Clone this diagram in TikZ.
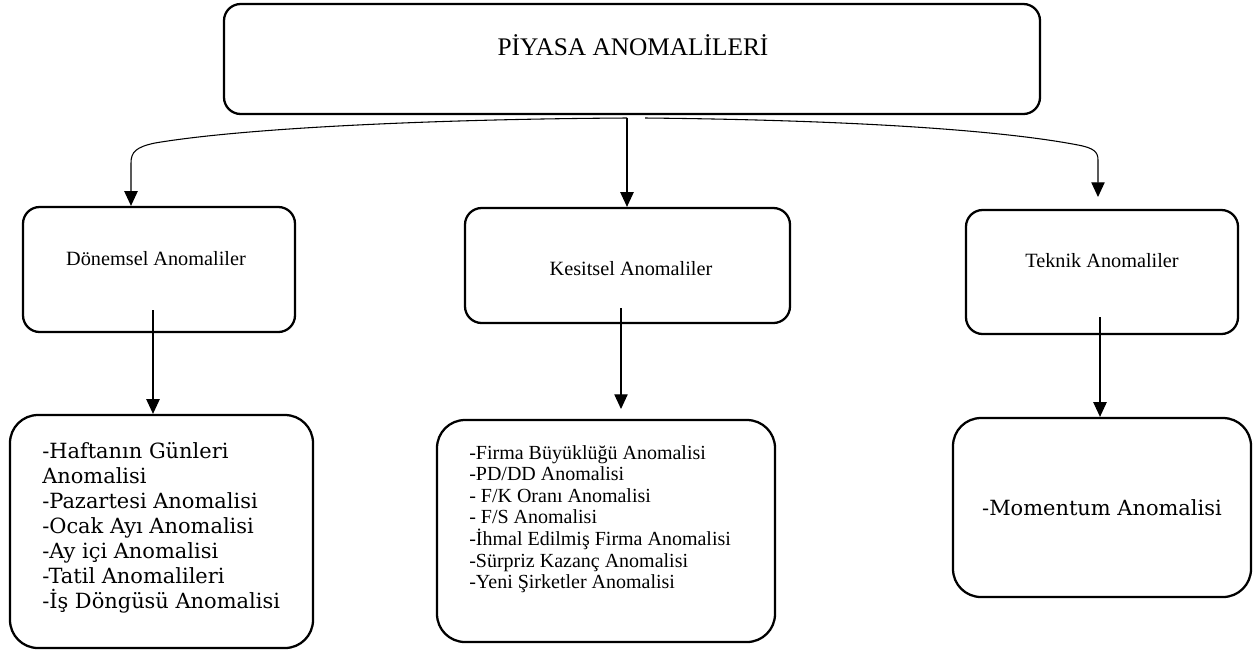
\documentclass[tikz,border=0pt]{standalone}
\usepackage{fontspec}
\setmainfont{Liberation Serif}
\newfontfamily\bkfont{DejaVu Serif}
\usetikzlibrary{arrows.meta,fit}
\begin{document}
\begin{tikzpicture}[x=0.75pt,y=-0.75pt,
  box/.style={draw, line width=1.7pt, rounded corners=12.5pt, inner sep=0pt},
  bigbox/.style={box, rounded corners=21pt},
  conn/.style={line width=0.8pt, -{Triangle[length=11pt,width=10pt]}},
  lbl/.style={inner sep=0pt, anchor=base, font=\fontsize{15.2}{18}\selectfont},
  listbk/.style={inner sep=0pt, anchor=north west, align=left, font=\bkfont\fontsize{15.7}{18.75}\selectfont},
  listgm/.style={inner sep=0pt, anchor=north west, align=left, font=\fontsize{15}{16.2}\selectfont}]

\useasboundingbox (0,0) rectangle (1253,651);

% boxes
\node[box, fit={(224,4) (1040,114)}] (top) {};
\node[box, fit={(23,207) (295,332)}] (b1) {};
\node[box, fit={(465,208) (790,323)}] (b2) {};
\node[box, fit={(966,210) (1238,334)}] (b3) {};
\node[bigbox, fit={(10,415) (313,648)}] (c1) {};
\node[bigbox, fit={(437,420) (775,642)}] (c2) {};
\node[bigbox, fit={(953,418) (1251,597)}] (c3) {};

% texts
\node[lbl, font=\fontsize{19}{22}\selectfont] (t0) at (633,55) {PİYASA ANOMALİLERİ};
\node[lbl] (t1) at (156,265) {Dönemsel Anomaliler};
\node[lbl] (t2) at (631,275) {Kesitsel Anomaliler};
\node[lbl] (t3) at (1102,267) {Teknik Anomaliler};

\node[listbk] (l1) at (42,442) {-Haftanın Günleri\\Anomalisi\\-Pazartesi Anomalisi\\-Ocak Ayı Anomalisi\\-Ay içi Anomalisi\\-Tatil Anomalileri\\-İş Döngüsü Anomalisi};
\node[listgm] (l2) at (469,445) {-Firma Büyüklüğü Anomalisi\\-PD/DD Anomalisi\\- F/K Oranı Anomalisi\\- F/S Anomalisi\\-İhmal Edilmiş Firma Anomalisi\\-Sürpriz Kazanç Anomalisi\\-Yeni Şirketler Anomalisi};
\node[inner sep=0pt, anchor=base, font=\bkfont\fontsize{15.7}{19}\selectfont] (l3) at (1102,515) {-Momentum Anomalisi};

% connectors from the top box
\coordinate (s0) at (627,118);
\coordinate (s0r) at (645,118);
\coordinate (k1) at (131,163);
\coordinate (k3) at (1098,160);
\coordinate (e3) at (1098,197);
\draw[conn] (s0) -- (s0 |- b2.north);
\draw[conn] (s0) .. controls (450,119) and (250,127) .. (155,143)
  .. controls (136,147) and (131,152) .. (k1) -- (k1 |- b1.north);
\draw[conn] (s0r) .. controls (850,120) and (1000,130) .. (1078,145)
  .. controls (1094,148) and (1098,152) .. (k3) -- (e3);

% connectors from the second row
\coordinate (s1) at (153,310);
\coordinate (s2) at (621,308);
\coordinate (e2) at (621,409);
\coordinate (s3) at (1100,317);
\draw[conn] (s1) -- (s1 |- c1.north);
\draw[conn] (s2) -- (e2);
\draw[conn] (s3) -- (s3 |- c3.north);
\end{tikzpicture}
\end{document}
